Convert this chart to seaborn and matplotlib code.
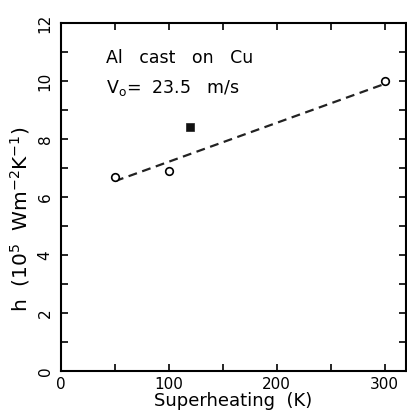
import numpy as np
import pandas as pd
import seaborn as sns
import matplotlib.pyplot as plt

# measured points (open circles)
superheat = [50, 100, 300]
h_vals = [6.7, 6.9, 10.0]
# single filled square
sq_x = [120]
sq_y = [8.4]
# dashed fit line end points
fit_x = [50, 300]
fit_y = [6.55, 9.9]

x_ticks = [0, 100, 200, 300]
y_ticks = [0, 2, 4, 6, 8, 10, 12]


def make_plot():
    sns.set_style("ticks", {'axes.edgecolor': 'black', 'xtick.color': 'black',
                            'ytick.color': 'black', 'text.color': 'black',
                            'axes.labelcolor': 'black'})
    plt.rcParams['font.family'] = ['DejaVu Sans']
    plt.rcParams['mathtext.fontset'] = 'dejavusans'

    fig = plt.figure(figsize=(4.07, 4.18), dpi=100)
    ax = fig.add_axes([0.150, 0.112, 0.848, 0.833])

    df_pts = pd.DataFrame({'x': superheat, 'y': h_vals})
    df_sq = pd.DataFrame({'x': sq_x, 'y': sq_y})
    df_fit = pd.DataFrame({'x': fit_x, 'y': fit_y})

    sns.lineplot(x='x', y='y', data=df_fit, ax=ax, color='#222222',
                 linestyle=(0, (4, 2.5)), linewidth=1.6)
    sns.scatterplot(x='x', y='y', data=df_pts, ax=ax, marker='o', s=30,
                    facecolor='white', edgecolor='black', linewidth=1.2, zorder=3)
    sns.scatterplot(x='x', y='y', data=df_sq, ax=ax, marker='s', s=32,
                    color='#111111', edgecolor='#111111', zorder=3)

    ax.set_xlim(0, 320)
    ax.set_ylim(0, 12)
    ax.set_xticks(x_ticks)
    ax.set_yticks(y_ticks)
    ax.set_xticks(np.arange(0, 320, 50), minor=True)
    ax.set_yticks(np.arange(0, 12.5, 1), minor=True)
    ax.tick_params(which='both', direction='in', top=True, right=True,
                   width=1.2, length=5, labelsize=11)
    for lbl in ax.get_yticklabels():
        lbl.set_rotation(90)
        lbl.set_va('center')
    ax.tick_params(axis='y', pad=6)
    ax.tick_params(axis='x', pad=4)
    for sp in ax.spines.values():
        sp.set_linewidth(1.5)

    ax.set_xlabel('Superheating  (K)', fontsize=13, labelpad=0)
    ax.set_ylabel(r'h  (10$^5$  Wm$^{-2}$K$^{-1}$)', fontsize=14.5)
    ax.yaxis.set_label_coords(-0.085, 0.435)

    ax.text(0.13, 0.885, 'Al   cast   on   Cu', transform=ax.transAxes, fontsize=12.5)
    ax.text(0.13, 0.80, r'V$_\mathrm{o}$=  23.5   m/s', transform=ax.transAxes, fontsize=12.5)

    fig.savefig('out.png', dpi=100)


if __name__ == "__main__":
    make_plot()
